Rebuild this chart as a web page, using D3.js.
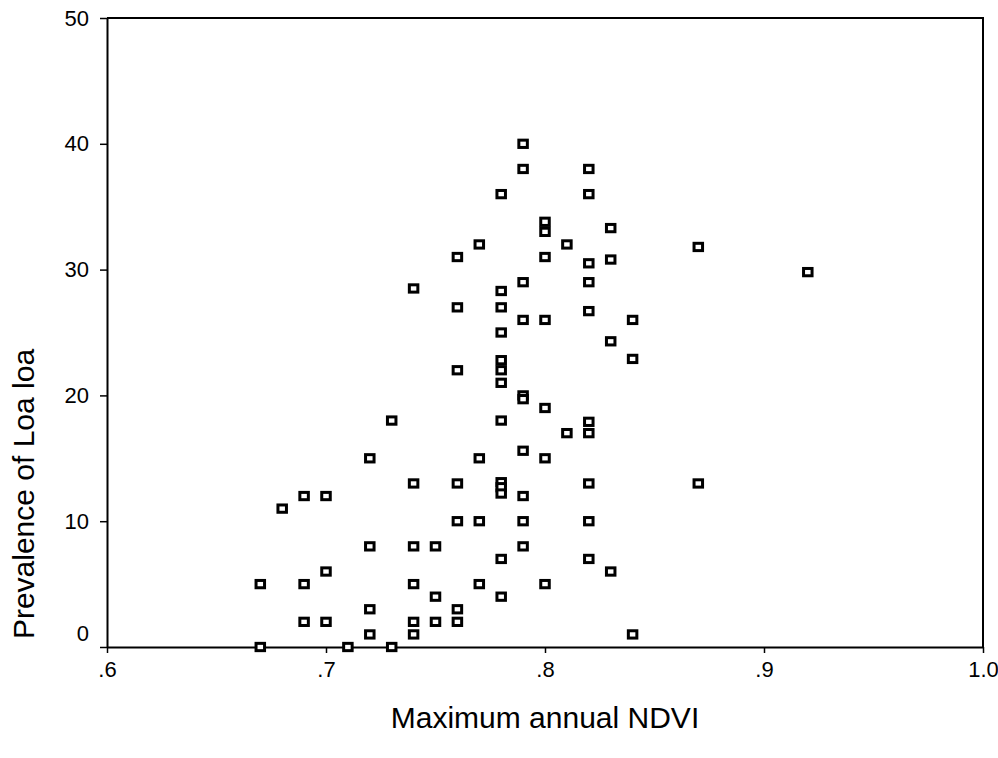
<!DOCTYPE html>
<html>
<head>
<meta charset="utf-8">
<script src="https://cdn.jsdelivr.net/npm/d3@7"></script>
<style>
  body { margin: 0; background: white; }
  text { font-family: "Liberation Sans", Arial, sans-serif; fill: black; }
</style>
</head>
<body>
<div id="chart"></div>
<script>
const WIDTH = 998
const HEIGHT = 758

// Maximum annual NDVI (x) and prevalence of Loa loa (y)
const ndvi = [
  0.67, 0.67,
  0.68,
  0.69, 0.69, 0.69,
  0.70, 0.70, 0.70,
  0.71,
  0.72, 0.72, 0.72, 0.72,
  0.73, 0.73,
  0.74, 0.74, 0.74, 0.74, 0.74, 0.74,
  0.75, 0.75, 0.75,
  0.76, 0.76, 0.76, 0.76, 0.76, 0.76, 0.76,
  0.77, 0.77, 0.77, 0.77,
  0.78, 0.78, 0.78, 0.78, 0.78, 0.78, 0.78, 0.78, 0.78, 0.78, 0.78, 0.78, 0.78,
  0.79, 0.79, 0.79, 0.79, 0.79, 0.79, 0.79, 0.79, 0.79, 0.79,
  0.80, 0.80, 0.80, 0.80, 0.80, 0.80, 0.80,
  0.81, 0.81,
  0.82, 0.82, 0.82, 0.82, 0.82, 0.82, 0.82, 0.82, 0.82, 0.82,
  0.83, 0.83, 0.83, 0.83,
  0.84, 0.84, 0.84,
  0.87, 0.87,
  0.92
]
const prevalence = [
  5, 0,
  11,
  12, 5, 2,
  12, 6, 2,
  0,
  15, 8, 3, 1,
  18, 0,
  28.5, 13, 8, 5, 2, 1,
  8, 4, 2,
  31, 27, 22, 13, 10, 3, 2,
  32, 15, 10, 5,
  36, 28.3, 27, 25, 22.8, 22, 21, 18, 13.1, 12.7, 12.2, 7, 4,
  40, 38, 29, 26, 20, 19.7, 15.6, 12, 10, 8,
  33.8, 33, 31, 26, 19, 15, 5,
  32, 17,
  38, 36, 30.5, 29, 26.7, 17.9, 17, 13, 10, 7,
  33.3, 30.8, 24.3, 6,
  26, 22.9, 1,
  31.8, 13,
  29.8
]

const xTicks = [0.6, 0.7, 0.8, 0.9, 1.0]
const yTicks = [0, 10, 20, 30, 40, 50]
const xTitle = "Maximum annual NDVI"
const yTitle = "Prevalence of Loa loa"

const margin = {top: 18, right: 15, bottom: 111, left: 107}

const x = d3.scaleLinear()
  .domain([0.6, 1.0])
  .range([margin.left, WIDTH - margin.right])

const y = d3.scaleLinear()
  .domain([0, 50])
  .range([HEIGHT - margin.bottom, margin.top])

const svg = d3.select("#chart")
  .append("svg")
  .attr("width", WIDTH)
  .attr("height", HEIGHT)

// frame (top and right edges)
svg.append("path")
  .attr("d", `M${x(0.6)},${y(50)}H${x(1.0)}V${y(0)}`)
  .attr("fill", "none")
  .attr("stroke", "black")
  .attr("stroke-width", 2)

const fmtX = d => d === 1 ? "1.0" : d3.format(".1f")(d).replace(/^0/, "")

const xAxis = svg.append("g")
  .attr("transform", `translate(0,${y(0)})`)
  .call(d3.axisBottom(x).tickValues(xTicks).tickFormat(fmtX).tickSize(6).tickSizeOuter(0).tickPadding(8))

const yAxis = svg.append("g")
  .attr("transform", `translate(${x(0.6)},0)`)
  .call(d3.axisLeft(y).tickValues(yTicks).tickSize(7).tickSizeOuter(0).tickPadding(11))

for (const ax of [xAxis, yAxis]) {
  ax.select(".domain").attr("stroke", "black").attr("stroke-width", 2)
  ax.selectAll(".tick line").attr("stroke", "black").attr("stroke-width", 1.5)
  ax.selectAll(".tick text")
    .attr("fill", "black")
    .style("font-size", "22px")
    .style("font-family", "'Liberation Sans', Arial, sans-serif")
}

// SPSS lifts the 0 label above the corner
yAxis.selectAll(".tick text").filter(d => d === 0).attr("dy", "-0.3em")

// points
const points = d3.zip(ndvi, prevalence)
svg.append("g")
  .selectAll("rect")
  .data(points)
  .join("rect")
  .attr("x", d => x(d[0]) - 4.25)
  .attr("y", d => y(d[1]) - 3.65)
  .attr("width", 8.5)
  .attr("height", 7.3)
  .attr("fill", "white")
  .attr("stroke", "black")
  .attr("stroke-width", 3)

// axis titles
svg.append("text")
  .attr("x", (x(0.6) + x(1.0)) / 2)
  .attr("y", 728)
  .attr("text-anchor", "middle")
  .style("font-size", "30px")
  .text(xTitle)

svg.append("text")
  .attr("transform", `translate(34,494) rotate(-90)`)
  .attr("text-anchor", "middle")
  .style("font-size", "30px")
  .text(yTitle)
</script>
</body>
</html>
